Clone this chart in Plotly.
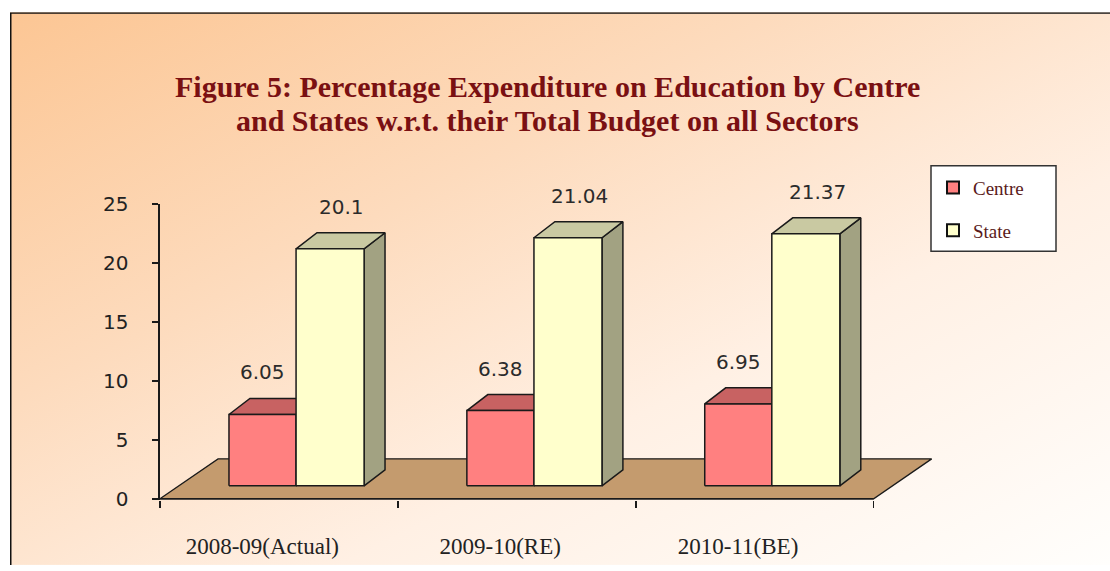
import base64
import plotly.graph_objects as go

# ---------------- data ----------------
categories = ["2008-09(Actual)", "2009-10(RE)", "2010-11(BE)"]
centre = [6.05, 6.38, 6.95]
state = [20.1, 21.04, 21.37]
y_ticks = [0, 5, 10, 15, 20, 25]
title_lines = ["Figure 5: Percentage Expenditure on Education by Centre",
               "and States w.r.t. their Total Budget on all Sectors"]

# ---------------- styling / geometry ----------------
W, H = 1110, 571
ML, MR, MT, MB = 160, 165, 204, 66
X_RANGE = [0, 3.3]
Y_RANGE = [-0.1, 25]
PW = W - ML - MR
PH = H - MT - MB

BASE = 1.1            # floor height (value units) of bar front faces
DX, DY = 0.088, 1.36  # 3D depth of bars
FDX, FDY = 0.244, 3.39  # floor depth
C_OFF = (0.29, 0.572)
S_OFF = (0.572, 0.858)
LABEL_SHIFT = -0.07

EDGE = "#1a1a1a"
C_FRONT, C_TOP = "#FF8080", "#C86262"
S_FRONT, S_TOP, S_SIDE = "#FFFFCC", "#C9C9A2", "#A2A282"
FLOOR = "#C49B6E"


def px_x(px):
    return (px - ML) / PW


def px_y(py):
    return ((H - MB) - py) / PH


def faces(x0, x1, top):
    front = ([x0, x1, x1, x0, x0], [BASE, BASE, top, top, BASE])
    topf = ([x0, x1, x1 + DX, x0 + DX, x0], [top, top, top + DY, top + DY, top])
    side = ([x1, x1 + DX, x1 + DX, x1, x1], [BASE, BASE + DY, top + DY, top, BASE])
    return front, topf, side


def collect(vals, off, kind):
    xs, ys = [], []
    for i, v in enumerate(vals):
        f = faces(i + off[0], i + off[1], BASE + v)
        fx, fy = f[kind]
        xs += fx + [None]
        ys += fy + [None]
    return xs, ys


def poly(xs, ys, fill, lw=1.5):
    return go.Scatter(x=xs, y=ys, mode="lines", fill="toself", fillcolor=fill,
                      line=dict(color=EDGE, width=lw), hoverinfo="skip",
                      showlegend=False)


fig = go.Figure()

# floor
fig.add_trace(poly([0, 3, 3 + FDX, FDX, 0], [0, 0, FDY, FDY, 0], FLOOR, 1.3))
# x axis line (floor front edge)
fig.add_trace(go.Scatter(x=[0, 3], y=[0, 0], mode="lines",
                         line=dict(color=EDGE, width=1.6), hoverinfo="skip",
                         showlegend=False))

# bars (order matters for occlusion)
fig.add_trace(poly(*collect(centre, C_OFF, 1), C_TOP))
fig.add_trace(poly(*collect(centre, C_OFF, 0), C_FRONT))
fig.add_trace(poly(*collect(state, S_OFF, 2), S_SIDE))
fig.add_trace(poly(*collect(state, S_OFF, 1), S_TOP))
fig.add_trace(poly(*collect(state, S_OFF, 0), S_FRONT))

# legend entries
fig.add_trace(go.Bar(x=[-10], y=[0], name="Centre", legendgroup="c",
                     marker=dict(color=C_FRONT, line=dict(color="#111", width=2))))
fig.add_trace(go.Bar(x=[-10], y=[0], name="State", legendgroup="s",
                     marker=dict(color=S_FRONT, line=dict(color="#111", width=2))))

# value labels
annotations = []
for vals, off, sh in ((centre, C_OFF, 0.0), (state, S_OFF, 0.05)):
    for i, v in enumerate(vals):
        annotations.append(dict(
            x=i + (off[0] + off[1]) / 2 + sh, y=BASE + v + DY,
            xref="x", yref="y", text=str(v), showarrow=False,
            yanchor="bottom", yshift=12,
            font=dict(family="DejaVu Sans", size=20, color="#2b2b2b")))

# title (two lines placed individually)
for line, py in zip(title_lines, (85, 119)):
    annotations.append(dict(
        x=px_x(547), y=px_y(py), xref="paper", yref="paper",
        text=line, showarrow=False, xanchor="center", yanchor="middle",
        font=dict(family="Liberation Serif", size=30, color="#7A1012",
                  weight="bold")))

# background gradient with border (as an SVG layout image)
svg = """<svg xmlns='http://www.w3.org/2000/svg' width='1100' height='561' viewBox='0 0 1100 561'>
<defs><linearGradient id='g' x1='0' y1='0' x2='1' y2='1'>
<stop offset='0' stop-color='#FCC694'/>
<stop offset='0.35' stop-color='#FDDBBD'/>
<stop offset='0.65' stop-color='#FFF0E4'/>
<stop offset='1' stop-color='#FFFEFC'/>
</linearGradient></defs>
<rect x='0' y='0' width='1100' height='561' fill='url(#g)'/>
<path d='M0.75,561 L0.75,0.75 L1100,0.75' fill='none' stroke='#111' stroke-width='1.5'/>
</svg>"""
src = "data:image/svg+xml;base64," + base64.b64encode(svg.encode()).decode()

# legend box drawn as a shape so its size matches the original
legend_box = dict(type="rect", xref="paper", yref="paper",
                  x0=px_x(931), x1=px_x(1056), y0=px_y(252), y1=px_y(165),
                  fillcolor="white", line=dict(color="#333", width=1.5),
                  layer="above")

fig.update_layout(
    width=W, height=H,
    margin=dict(l=ML, r=MR, t=MT, b=MB, pad=0),
    paper_bgcolor="white", plot_bgcolor="rgba(0,0,0,0)",
    barmode="overlay",
    images=[dict(source=src, xref="paper", yref="paper",
                 x=px_x(10), y=px_y(9),
                 sizex=1100 / PW, sizey=562 / PH,
                 xanchor="left", yanchor="top", sizing="stretch", layer="below")],
    shapes=[legend_box],
    annotations=annotations,
    showlegend=True,
    legend=dict(x=px_x(933), y=px_y(168),
                xanchor="left", yanchor="top",
                bgcolor="rgba(0,0,0,0)", borderwidth=0,
                font=dict(family="Liberation Serif", size=19, color="#5A1A1A"),
                traceorder="grouped", tracegroupgap=15, itemwidth=30),
    xaxis=dict(range=X_RANGE, showgrid=False, zeroline=False, showline=False,
               tickvals=[i + 0.5 + LABEL_SHIFT for i in range(len(categories))],
               ticktext=categories,
               ticks="outside", ticklen=25, tickcolor="rgba(0,0,0,0)",
               tickfont=dict(family="Liberation Serif", size=23, color="#222"),
               minor=dict(tickvals=[0, 1, 2, 3], ticks="outside", ticklen=7,
                          tickwidth=1.5, tickcolor=EDGE, showgrid=False),
               fixedrange=True),
    yaxis=dict(range=Y_RANGE, showgrid=False, zeroline=False, showline=True,
               linecolor=EDGE, linewidth=1.6,
               tickvals=y_ticks, ticks="outside", ticklen=6, tickwidth=1.5,
               tickcolor=EDGE, ticklabelstandoff=20,
               tickfont=dict(family="DejaVu Sans", size=20, color="#222"),
               fixedrange=True),
)

fig.write_html(
    "out.html",
    config={"displayModeBar": False, "staticPlot": True},
    post_script=("document.documentElement.style.margin='0';"
                 "document.body.style.margin='0';"
                 "document.body.style.overflow='hidden';"),
)
